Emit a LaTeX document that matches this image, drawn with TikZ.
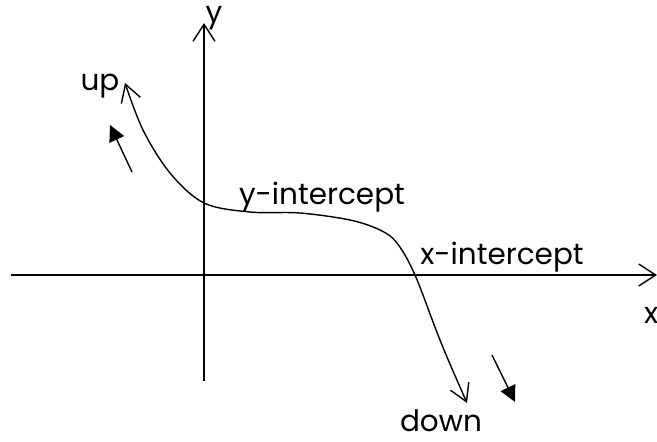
\documentclass[tikz,border=0pt]{standalone}
\usepackage{fontspec}
\setmainfont{Poppins}
\usepackage{tikz}
\usetikzlibrary{arrows.meta, positioning}

\begin{document}
\begin{tikzpicture}[
    x=1pt, y=-1pt,
    axisline/.style={line width=1.6pt, -{Straight Barb[length=17pt,width=22pt,line width=1.4pt]}},
    curveline/.style={line width=1.4pt, {Straight Barb[length=17pt,width=20pt,line width=1.4pt]}-{Straight Barb[length=17pt,width=20pt,line width=1.4pt]}},
    hintarrow/.style={line width=1.4pt, -{Triangle[length=16pt,width=16pt]}},
    lbl/.style={inner sep=0pt, font=\fontsize{29.5}{34}\selectfont}
]
    \useasboundingbox (0,0) rectangle (657,442);

    % axes
    \coordinate (xleft) at (11,275);
    \coordinate (xright) at (657,275);
    \coordinate (ybottom) at (204,381);
    \coordinate (ytop) at (204,23);
    \draw[axisline] (xleft) -- (xright);
    \draw[axisline] (ybottom) -- (ytop);
    \node[lbl] (ylab) at (214,18) {y};
    \node[lbl, anchor=west] (xlab) at (644,315) {x};

    % the graph
    \coordinate (cstart) at (467,403);
    \coordinate (cend) at (125,83);
    \draw[curveline] plot[smooth, tension=0.55] coordinates {
        (cstart) (440,340) (415,275) (397,243) (380,230) (350,220)
        (300,213) (250,212) (204,203) (170,173) (143,130) (cend)};

    % end behaviour hints
    \coordinate (ufrom) at (132,172);
    \coordinate (uto) at (110,125);
    \coordinate (dfrom) at (492,355);
    \coordinate (dto) at (515,402);
    \draw[hintarrow] (ufrom) -- (uto);
    \draw[hintarrow] (dfrom) -- (dto);

    % labels
    \node[lbl, anchor=base] (up) at (100,90) {up};
    \node[lbl, anchor=base] (down) at (441,431) {down};
    \node[lbl, anchor=base] (yint) at (322,204) {y-intercept};
    \node[lbl, anchor=base] (xint) at (502,264) {x-intercept};
\end{tikzpicture}
\end{document}
